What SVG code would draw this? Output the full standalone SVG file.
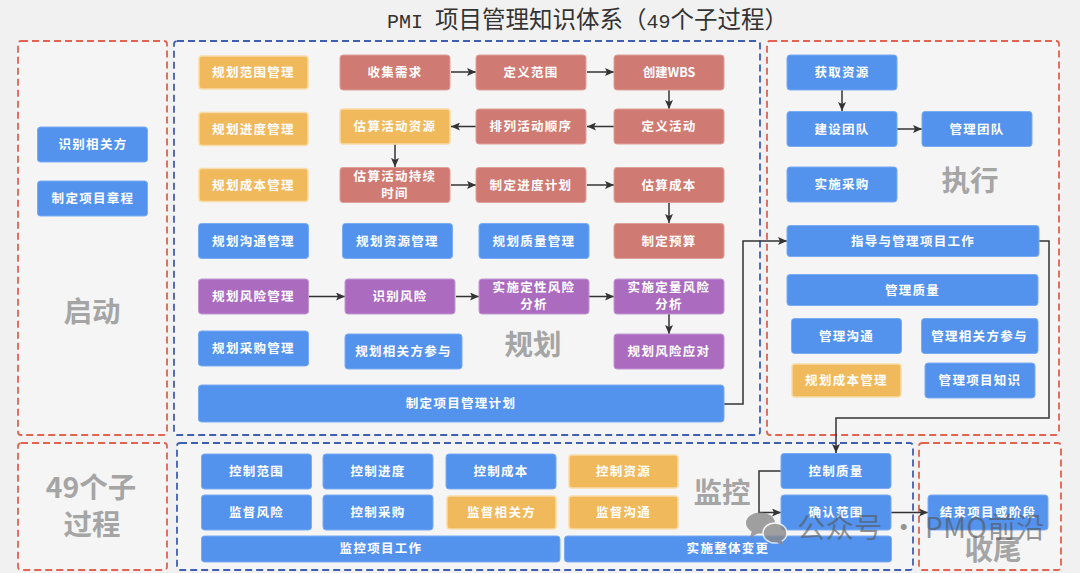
<svg xmlns="http://www.w3.org/2000/svg" width="1080" height="573" viewBox="0 0 1080 573">
<style>
text{font-family:"Noto Sans CJK SC","Noto Sans",sans-serif;text-anchor:middle}
.p{fill:#f5f5f5;stroke-width:1.8;stroke-dasharray:7 4}
.r{stroke:#e2634f}.u{stroke:#3f5fb0}
.n rect{stroke-width:1;rx:3px}
.b rect{fill:#5393ee;stroke:#7aabf3}
.o rect{fill:#f0b95c;stroke:#f8dca8;stroke-width:1.5}
.d rect{fill:#cf7a72;stroke:#e0a09a}
.v rect{fill:#ab6cc0;stroke:#c197d1}
.n text{fill:#fff;font-size:12.500px;font-weight:700;letter-spacing:1.300px}
.l{fill:#a5a5a5;font-size:28.500px;font-weight:700}
.m{font-family:"Liberation Mono",monospace;font-size:20px}
#conn path{fill:none;stroke:#333;stroke-width:1.5}
</style>
<defs><marker id="a" markerWidth="9" markerHeight="8" refX="9" refY="4" orient="auto" markerUnits="userSpaceOnUse"><path d="M0 0L9 4L0 8L2 4Z" fill="#333"/></marker></defs>
<rect width="1080" height="573" fill="#f1f1f1"/>
<text x="587.500" y="28" font-size="23.500" fill="#333"><tspan class="m">PMI </tspan>项目管理知识体系（<tspan class="m">49</tspan>个子过程）</text>
<g id="panels">
<rect class="p r" x="18" y="41" width="149" height="394" rx="3"/>
<rect class="p u" x="174" y="41" width="586" height="394" rx="3"/>
<rect class="p r" x="767" y="41" width="292" height="394" rx="3"/>
<rect class="p r" x="18" y="443" width="149" height="127" rx="3"/>
<rect class="p u" x="177" y="443" width="736" height="127" rx="3"/>
<rect class="p r" x="919" y="443" width="142" height="127" rx="3"/>
</g>
<g id="labels">
<text class="l" x="92" y="322">启动</text><text class="l" x="533" y="355">规划</text><text class="l" x="970" y="191">执行</text><text class="l" x="722" y="503">监控</text><text class="l" x="993" y="560">收尾</text>
<text class="l" x="91" y="498">49个子</text><text class="l" x="92" y="535">过程</text>
</g>
<g id="conn">
<path marker-end="url(#a)" d="M451 72H476"/><path marker-end="url(#a)" d="M587 72H614"/><path marker-end="url(#a)" d="M669 90V109"/>
<path marker-end="url(#a)" d="M614 126.500H587"/><path marker-end="url(#a)" d="M476 126.500H451"/><path marker-end="url(#a)" d="M395 144V167"/>
<path marker-end="url(#a)" d="M451 185H476"/><path marker-end="url(#a)" d="M587 185H614"/><path marker-end="url(#a)" d="M669 202.500V223"/>
<path marker-end="url(#a)" d="M309 296.500H345"/><path marker-end="url(#a)" d="M456 296.500H479"/><path marker-end="url(#a)" d="M589 296.500H614"/><path marker-end="url(#a)" d="M669 314V334"/>
<path marker-end="url(#a)" d="M724 404H743V241H787"/>
<path marker-end="url(#a)" d="M842 90V111"/><path marker-end="url(#a)" d="M897 129H922"/>
<path marker-end="url(#a)" d="M1039 241H1049V418H836V453"/>
<path marker-end="url(#a)" d="M781 471H759V512.500H781"/><path marker-end="url(#a)" d="M891 512.500H928"/>
</g>
<g id="n1" class="n b"><rect x="37.500" y="127" width="110" height="35"/><text x="93" y="149">识别相关方</text></g>
<g id="n2" class="n b"><rect x="37.500" y="181" width="110" height="35"/><text x="93" y="203">制定项目章程</text></g>
<g id="n3" class="n o"><rect x="199" y="56" width="109" height="33"/><text x="253.500" y="77">规划范围管理</text></g>
<g id="n4" class="n o"><rect x="199" y="112.500" width="109" height="33"/><text x="253.500" y="133.500">规划进度管理</text></g>
<g id="n5" class="n o"><rect x="199" y="168.500" width="109" height="33"/><text x="253.500" y="189.500">规划成本管理</text></g>
<g id="n6" class="n b"><rect x="198.500" y="223.500" width="110" height="35"/><text x="253.500" y="245.500">规划沟通管理</text></g>
<g id="n7" class="n d"><rect x="340" y="55" width="110" height="35"/><text x="395" y="77">收集需求</text></g>
<g id="n8" class="n d"><rect x="476" y="55" width="110" height="35"/><text x="531" y="77">定义范围</text></g>
<g id="n9" class="n d"><rect x="614" y="55" width="110" height="35"/><text x="669" y="77" style="letter-spacing:0">创建WBS</text></g>
<g id="n10" class="n o"><rect x="340" y="109" width="110" height="35"/><text x="395" y="131">估算活动资源</text></g>
<g id="n11" class="n d"><rect x="476" y="109" width="110" height="35"/><text x="531" y="131">排列活动顺序</text></g>
<g id="n12" class="n d"><rect x="614" y="109" width="110" height="35"/><text x="669" y="131">定义活动</text></g>
<g id="n13" class="n d"><rect x="340" y="167.500" width="110" height="35"/><text x="395" y="181">估算活动持续</text><text x="395" y="198">时间</text></g>
<g id="n14" class="n d"><rect x="476" y="167.500" width="110" height="35"/><text x="531" y="189.500">制定进度计划</text></g>
<g id="n15" class="n d"><rect x="614" y="167.500" width="110" height="35"/><text x="669" y="189.500">估算成本</text></g>
<g id="n16" class="n b"><rect x="342.500" y="223.500" width="110" height="35"/><text x="397.500" y="245.500">规划资源管理</text></g>
<g id="n17" class="n b"><rect x="479" y="223.500" width="110" height="35"/><text x="534" y="245.500">规划质量管理</text></g>
<g id="n18" class="n d"><rect x="614" y="223.500" width="110" height="35"/><text x="669" y="245.500">制定预算</text></g>
<g id="n19" class="n v"><rect x="198.500" y="279" width="110" height="35"/><text x="253.500" y="301">规划风险管理</text></g>
<g id="n20" class="n v"><rect x="345" y="279" width="110" height="35"/><text x="400" y="301">识别风险</text></g>
<g id="n21" class="n v"><rect x="479" y="279" width="110" height="35"/><text x="534" y="292">实施定性风险</text><text x="534" y="309">分析</text></g>
<g id="n22" class="n v"><rect x="614" y="279" width="110" height="35"/><text x="669" y="292">实施定量风险</text><text x="669" y="309">分析</text></g>
<g id="n23" class="n b"><rect x="198.500" y="331" width="110" height="35"/><text x="253.500" y="353">规划采购管理</text></g>
<g id="n24" class="n b"><rect x="345" y="334" width="117" height="35"/><text x="403.500" y="356">规划相关方参与</text></g>
<g id="n25" class="n v"><rect x="614" y="334" width="110" height="35"/><text x="669" y="356">规划风险应对</text></g>
<g id="n26" class="n b"><rect x="198.500" y="385" width="525.500" height="37"/><text x="461" y="408">制定项目管理计划</text></g>
<g id="n27" class="n b"><rect x="787" y="55" width="110" height="35"/><text x="842" y="77">获取资源</text></g>
<g id="n28" class="n b"><rect x="787" y="111.500" width="110" height="35"/><text x="842" y="133.500">建设团队</text></g>
<g id="n29" class="n b"><rect x="922" y="111.500" width="110" height="35"/><text x="977" y="133.500">管理团队</text></g>
<g id="n30" class="n b"><rect x="787" y="167" width="110" height="35"/><text x="842" y="189">实施采购</text></g>
<g id="n31" class="n b"><rect x="787" y="225.500" width="252" height="31"/><text x="913" y="245.500">指导与管理项目工作</text></g>
<g id="n32" class="n b"><rect x="787" y="274.500" width="251" height="31"/><text x="912.500" y="294.500">管理质量</text></g>
<g id="n33" class="n b"><rect x="791.500" y="318.500" width="110" height="35"/><text x="846.500" y="340.500">管理沟通</text></g>
<g id="n34" class="n b"><rect x="921.500" y="318.500" width="116.500" height="35"/><text x="979.500" y="340.500">管理相关方参与</text></g>
<g id="n35" class="n o"><rect x="792" y="364" width="109" height="33"/><text x="846.500" y="385">规划成本管理</text></g>
<g id="n36" class="n b"><rect x="925" y="363" width="110" height="35"/><text x="980" y="385">管理项目知识</text></g>
<g id="n37" class="n b"><rect x="201.500" y="454" width="110" height="35"/><text x="256.500" y="476">控制范围</text></g>
<g id="n38" class="n b"><rect x="323" y="454" width="110" height="35"/><text x="378" y="476">控制进度</text></g>
<g id="n39" class="n b"><rect x="446" y="454" width="110" height="35"/><text x="501" y="476">控制成本</text></g>
<g id="n40" class="n o"><rect x="569" y="455" width="109" height="33"/><text x="623.500" y="476">控制资源</text></g>
<g id="n41" class="n b"><rect x="201.500" y="495" width="110" height="35"/><text x="256.500" y="517">监督风险</text></g>
<g id="n42" class="n b"><rect x="323" y="495" width="110" height="35"/><text x="378" y="517">控制采购</text></g>
<g id="n43" class="n o"><rect x="447" y="496" width="109" height="33"/><text x="501.500" y="517">监督相关方</text></g>
<g id="n44" class="n o"><rect x="569" y="496" width="109" height="33"/><text x="623.500" y="517">监督沟通</text></g>
<g id="n45" class="n b"><rect x="201.500" y="536" width="358.500" height="26"/><text x="381" y="553">监控项目工作</text></g>
<g id="n46" class="n b"><rect x="564.500" y="536" width="327" height="26"/><text x="728" y="553">实施整体变更</text></g>
<g id="n47" class="n b"><rect x="781" y="453.500" width="110" height="35"/><text x="836" y="475.500">控制质量</text></g>
<g id="n48" class="n b"><rect x="781" y="495" width="110" height="35"/><text x="836" y="517">确认范围</text></g>
<g id="n49" class="n b"><rect x="928" y="495" width="120" height="35"/><text x="988" y="517">结束项目或阶段</text></g>
<g id="watermark">
<g fill="#8a8a8a" opacity="0.8">
<ellipse cx="760.500" cy="523" rx="14.500" ry="10.500"/><path d="M752 530L750 538L760 532Z"/>
<ellipse cx="775" cy="533" rx="12" ry="10" stroke="#f5f5f5" stroke-width="1.500"/><path d="M781 540L785 546L776 542Z"/>
</g>
<text x="921" y="538" font-size="28" letter-spacing="0.5" fill="#555" opacity="0.6">公众号 · PMO前沿</text>
</g>
</svg>
